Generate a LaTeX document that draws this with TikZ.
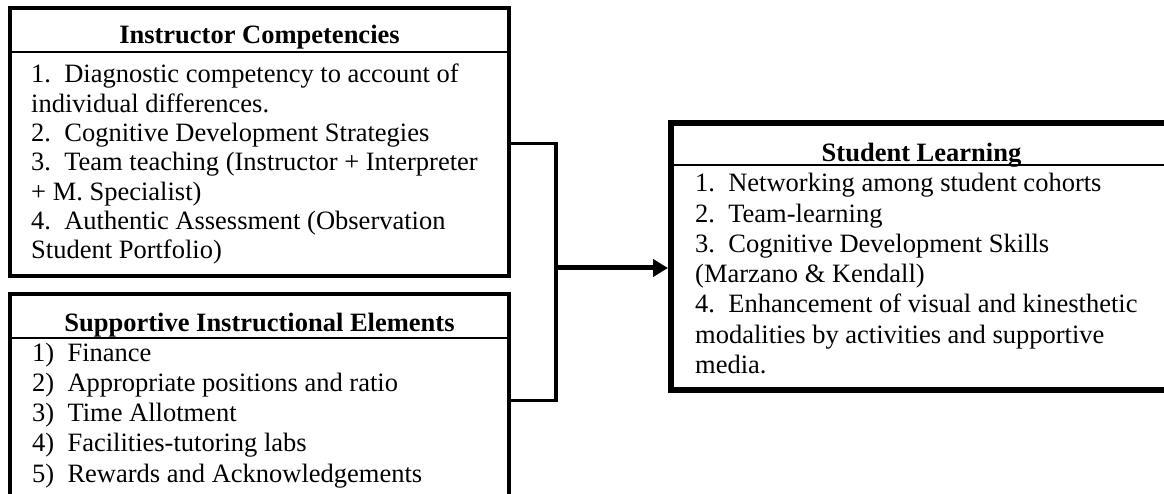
\documentclass[tikz,border=0pt]{standalone}
\usepackage{fontspec}
\setmainfont{Liberation Serif}
\usepackage{tikz}
\usetikzlibrary{arrows.meta}
\tikzstyle{box} = [draw,rectangle,line width=4pt,anchor=north west,inner sep=0pt]
\tikzstyle{bigbox} = [box,line width=6pt]
\tikzstyle{head} = [inner sep=0pt,anchor=base,font=\fontsize{26.5}{30}\selectfont\bfseries]
\tikzstyle{item} = [inner sep=0pt,anchor=base west,font=\fontsize{26.5}{30}\selectfont\frenchspacing]
\tikzstyle{rule} = [line width=2pt]
\tikzstyle{link} = [line width=3pt]
\tikzstyle{linkarrow} = [line width=5pt,-{Triangle[length=15pt,width=17pt]}]

\begin{document}
\begin{tikzpicture}[x=1pt,y=-1pt]
\useasboundingbox (0,0) rectangle (1164,494);
\clip (0,0) rectangle (1164,494);

% boxes
\node[box,minimum width=499pt,minimum height=268pt] (ic) at (8,6) {};
\node[box,minimum width=499pt,minimum height=250pt] (sie) at (8,292) {};
\node[bigbox,minimum width=501pt,minimum height=267pt] (sl) at (668,120) {};

\draw[rule] (10,52) -- (509,52);
\draw[rule] (10,338) -- (509,338);
\draw[rule] (671,165) -- (1172,165);

% titles
\node[head] (ic-head) at (259.5,44) {Instructor Competencies};
\node[head] (sie-head) at (259.5,331) {Supportive Instructional Elements};
\node[head] (sl-head) at (921.5,162) {Student Learning};

% lists
\foreach \t [count=\i from 0] in {{1.~ Diagnostic competency to account of},{individual differences.},{2.~ Cognitive Development Strategies},{3.~ Team teaching (Instructor + Interpreter},{+ M. Specialist)},{4.~ Authentic Assessment (Observation},{Student Portfolio)}}
{
 \node[item] (ic-\i) at (31,83+29.3*\i) {\t};
}

\foreach \t [count=\i from 0] in {{1)~ Finance},{2)~ Appropriate positions and ratio},{3)~ Time Allotment},{4)~ Facilities-tutoring labs},{5)~ Rewards and Acknowledgements}}
{
 \node[item] (sie-\i) at (32,361+30.25*\i) {\t};
}

\foreach \t [count=\i from 0] in {{1.~ Networking among student cohorts},{2.~ Team-learning},{3.~ Cognitive Development Skills},{(Marzano \& Kendall)},{4.~ Enhancement of visual and kinesthetic},{modalities by activities and supportive},{media.}}
{
 \node[item] (sl-\i) at (695,192+30.2*\i) {\t};
}

% connectors
\coordinate (jtop) at (556,144);
\coordinate (jmid) at (556,268);
\coordinate (jbot) at (556,400);
\draw[link] (ic.east |- jtop) -- ([xshift=2pt]jtop);
\draw[link] (sie.east |- jbot) -- ([xshift=2pt]jbot);
\draw[line width=4.5pt] ([yshift=1.5pt]jtop) -- ([yshift=-1.5pt]jbot);
\draw[linkarrow] (jmid) -- (sl.west |- jmid);

\end{tikzpicture}
\end{document}
